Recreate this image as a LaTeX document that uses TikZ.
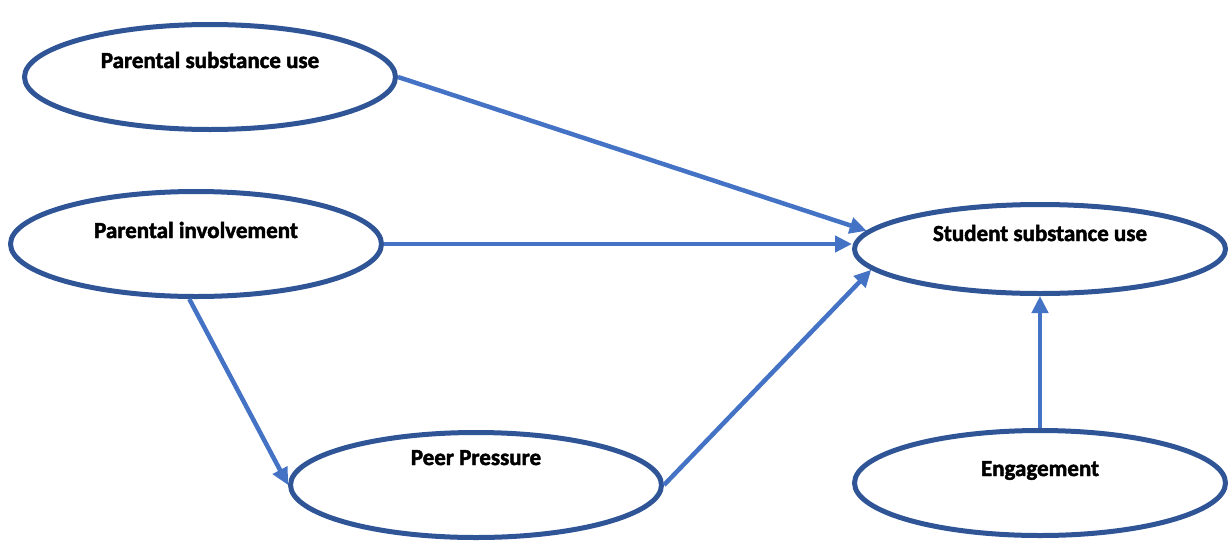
\documentclass[tikz,border=0pt]{standalone}
\usepackage{fontspec}
\setmainfont{Carlito}
\usetikzlibrary{arrows.meta,shapes.geometric}
\definecolor{azulOval}{HTML}{2F5597}
\definecolor{azulFlecha}{HTML}{4472C4}
\newcommand{\subido}[2][10pt]{\raisebox{#1}[0pt][0pt]{#2}}

\begin{document}
\begin{tikzpicture}[x=1pt,y=-1pt,>={Triangle[length=17pt,width=16pt]},
  oval/.style={ellipse,draw=azulOval,line width=5pt,inner sep=0pt,
    minimum width=371pt,minimum height=105pt,
    font=\fontsize{23}{27}\selectfont\bfseries\addfontfeature{FakeBold=2}},
  flecha/.style={azulFlecha,line width=4.5pt,->}]
  \useasboundingbox (0,0) rectangle (1228,544);
  \node[oval] (psu) at (210,77) {\subido[9pt]{Parental substance use}};
  \node[oval] (pin) at (196,244) {\subido[6pt]{Parental involvement}};
  \node[oval] (pp) at (476,485) {\subido[20pt]{Peer Pressure}};
  \node[oval,minimum height=89pt] (ssu) at (1040,249) {\subido[8pt]{Student substance use}};
  \node[oval] (eng) at (1040,483) {\subido[7pt]{Engagement}};
  \draw[flecha] (psu.east) -- (ssu.174);
  \draw[flecha] (pin.east) -- (pin.east -| ssu.west);
  \draw[flecha] (pin.263) -- (pp.west);
  \draw[flecha] (pp.east) -- (ssu.187);
  \draw[flecha] (eng.north) -- (ssu.south);
\end{tikzpicture}
\end{document}
